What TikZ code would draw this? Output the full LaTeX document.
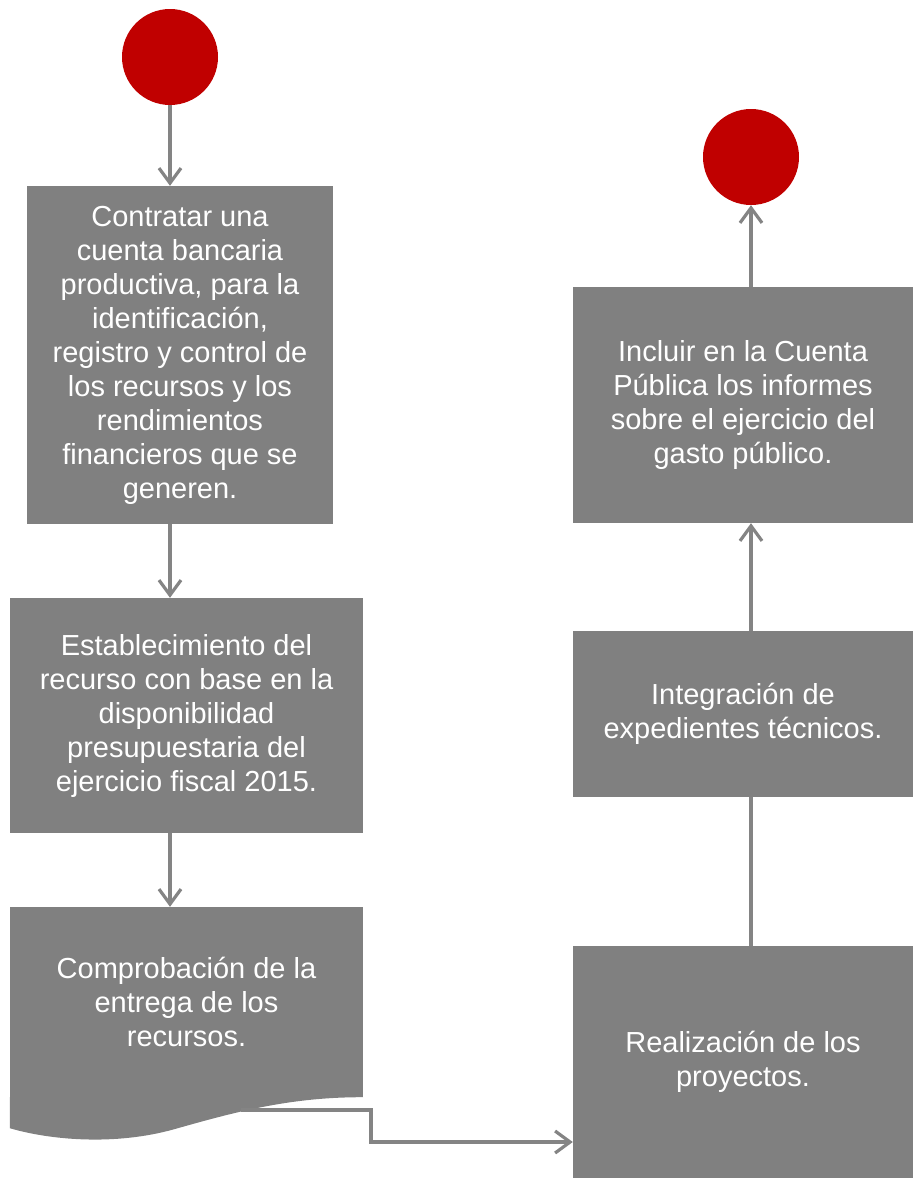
\documentclass[tikz,border=0pt]{standalone}
\usepackage{fontspec}
\setmainfont{Liberation Sans}
\usetikzlibrary{arrows.meta}
\definecolor{boxgray}{RGB}{128,128,128}
\definecolor{linegray}{RGB}{132,132,132}
\definecolor{dotred}{RGB}{192,0,0}
\tikzset{box/.style = {fill=boxgray,text=white,align=center,inner sep=0pt,font=\fontsize{29}{34}\selectfont}}
\tikzset{terminal/.style = {circle,fill=dotred,minimum size=96pt,inner sep=0pt}}
\tikzset{arrow/.style = {-{Straight Barb[length=15pt,width=22pt]},line width=3.2pt,draw=linegray}}
\tikzset{link/.style = {line width=3.2pt,draw=linegray}}

\begin{document}
\begin{tikzpicture}[x=1pt,y=-1pt]
	\useasboundingbox (0,0) rectangle (913,1178);
	% left column
	\node[terminal] (start) at (170,57) {};
	\node[box, minimum width=306pt, minimum height=338pt] (contratar) at (180,355) {Contratar una\\cuenta bancaria\\productiva, para la\\identificación,\\registro y control de\\los recursos y los\\rendimientos\\financieros que se\\generen.};
	\node[box, minimum width=353pt, minimum height=235pt] (establecer) at (186.5,715.5) {Establecimiento del\\recurso con base en la\\disponibilidad\\presupuestaria del\\ejercicio fiscal 2015.};
	\node[box, minimum width=353pt, minimum height=190pt] (comprobar) at (186.5,1002) {Comprobación de la\\entrega de los\\recursos.};
	\fill[boxgray] (comprobar.south west) -- ++(0,31) .. controls (50,1140) and (115,1146) .. (175,1129) .. controls (235,1112) and (290,1097) .. (comprobar.south east) -- cycle;
	\coordinate (docout) at (241,1110);
	% right column
	\node[box, minimum width=340pt, minimum height=232pt] (realizar) at (743,1062) {Realización de los\\proyectos.};
	\node[box, minimum width=340pt, minimum height=166pt] (integrar) at (743,714) {Integración de\\expedientes técnicos.};
	\node[box, minimum width=340pt, minimum height=236pt] (incluir) at (743,405) {Incluir en la Cuenta\\Pública los informes\\sobre el ejercicio del\\gasto público.};
	\node[terminal] (fin) at (751,157) {};
	% connectors
	\draw[arrow] (start) -- (start |- contratar.north);
	\draw[arrow] (contratar.south -| start) -- (establecer.north -| start);
	\draw[arrow] (establecer.south -| start) -- (comprobar.north -| start);
	\draw[arrow] (docout) -- (371,1110) |- ([yshift=-80pt]realizar.west);
	\draw[link] (realizar.north -| fin) -- (integrar.south -| fin);
	\draw[arrow] (integrar.north -| fin) -- (incluir.south -| fin);
	\draw[arrow] (incluir.north -| fin) -- (fin);
\end{tikzpicture}
\end{document}
